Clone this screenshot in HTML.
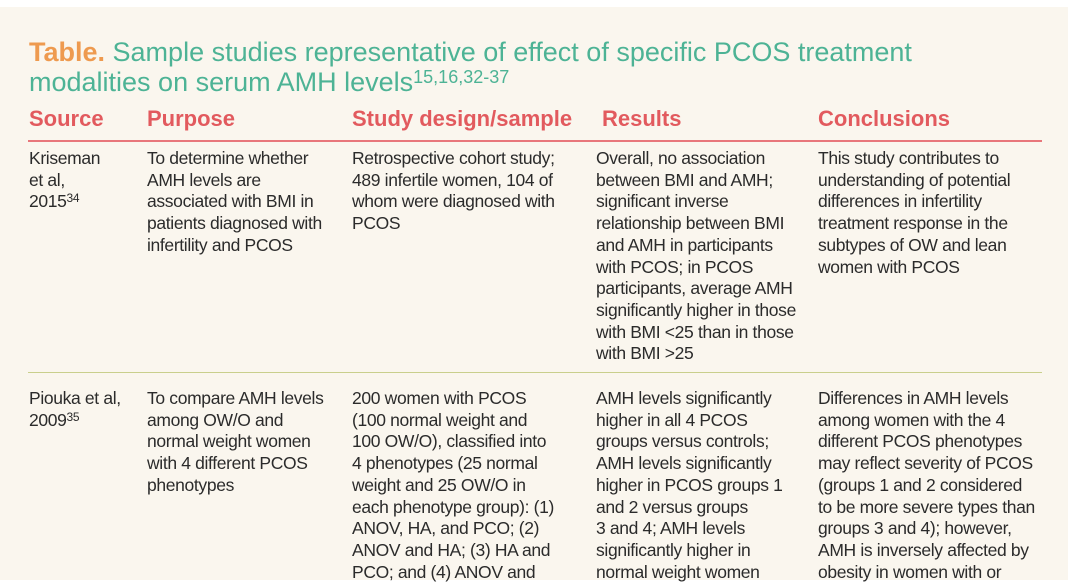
<!DOCTYPE html>
<html><head><meta charset="utf-8"><style>
html,body{margin:0;padding:0;}
body{width:1068px;height:580px;position:relative;overflow:hidden;background:#fff;font-family:"Liberation Sans",sans-serif;}
#bg{position:absolute;left:0;top:7px;width:1068px;height:573px;background:#faf6ee;}
.t{position:absolute;white-space:nowrap;}
.title{left:29px;font-size:27px;color:#4db395;line-height:30px;}
.h{top:105px;font-size:22px;font-weight:bold;color:#e25a5e;line-height:28px;letter-spacing:0px;}
.c{font-size:17.5px;line-height:21.7px;color:#2b2b2b;letter-spacing:-0.35px;transform-origin:0 0;}
sup{font-size:12px;vertical-align:5px;line-height:0;}
.rule{position:absolute;left:28px;width:1014px;}
</style></head><body>
<div id="bg"></div>
<div class="t title" style="top:37px"><b style="color:#ee9a4f">Table.</b> Sample studies representative of effect of specific PCOS treatment</div>
<div class="t title" style="top:67px">modalities on serum AMH levels<span style="font-size:18px;vertical-align:8px;line-height:0">15,16,32-37</span></div>
<div class="t h" style="left:29px">Source</div>
<div class="t h" style="left:147px">Purpose</div>
<div class="t h" style="left:352px">Study design/sample</div>
<div class="t h" style="left:602px">Results</div>
<div class="t h" style="left:818px">Conclusions</div>
<div class="rule" style="top:140px;height:2px;background:#e8777b"></div>
<div class="rule" style="top:372px;height:1px;background:#c9cf8c"></div>

<div class="t c" style="left:29px;top:148px">Kriseman<br>et al,<br>2015<sup>34</sup></div>
<div class="t c" style="left:147px;top:148px">To determine whether<br>AMH levels are<br>associated with BMI in<br>patients diagnosed with<br>infertility and PCOS</div>
<div class="t c" style="left:352px;top:148px">Retrospective cohort study;<br>489 infertile women, 104 of<br>whom were diagnosed with<br>PCOS</div>
<div class="t c" style="left:596px;top:148px">Overall, no association<br>between BMI and AMH;<br>significant inverse<br>relationship between BMI<br>and AMH in participants<br>with PCOS; in PCOS<br>participants, average AMH<br>significantly higher in those<br>with BMI &lt;25 than in those<br>with BMI &gt;25</div>
<div class="t c" style="left:818px;top:148px">This study contributes to<br>understanding of potential<br>differences in infertility<br>treatment response in the<br>subtypes of OW and lean<br>women with PCOS</div>

<div class="t c" style="left:29px;top:388px">Piouka et al,<br>2009<sup>35</sup></div>
<div class="t c" style="left:147px;top:388px">To compare AMH levels<br>among OW/O and<br>normal weight women<br>with 4 different PCOS<br>phenotypes</div>
<div class="t c" style="left:352px;top:388px">200 women with PCOS<br>(100 normal weight and<br>100 OW/O), classified into<br>4 phenotypes (25 normal<br>weight and 25 OW/O in<br>each phenotype group): (1)<br>ANOV, HA, and PCO; (2)<br>ANOV and HA; (3) HA and<br>PCO; and (4) ANOV and</div>
<div class="t c" style="left:596px;top:388px">AMH levels significantly<br>higher in all 4 PCOS<br>groups versus controls;<br>AMH levels significantly<br>higher in PCOS groups 1<br>and 2 versus groups<br>3 and 4; AMH levels<br>significantly higher in<br>normal weight women</div>
<div class="t c" style="left:818px;top:388px">Differences in AMH levels<br>among women with the 4<br>different PCOS phenotypes<br>may reflect severity of PCOS<br>(groups 1 and 2 considered<br>to be more severe types than<br>groups 3 and 4); however,<br>AMH is inversely affected by<br>obesity in women with or</div>
</body></html>
